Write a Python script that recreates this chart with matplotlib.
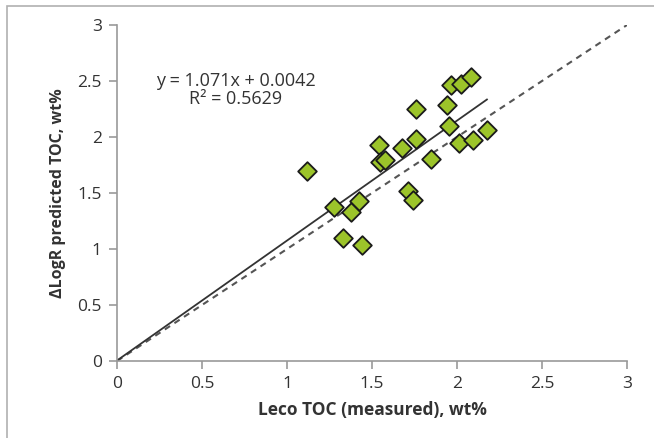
import matplotlib
matplotlib.use("Agg")
import matplotlib.pyplot as plt
import numpy as np
from matplotlib.patches import Rectangle

plt.rcParams['font.family'] = ['Open Sans', 'DejaVu Sans']

leco_toc = [1.119, 1.279, 1.328, 1.377, 1.421, 1.443, 1.542, 1.549, 1.574, 1.679,
            1.709, 1.741, 1.758, 1.758, 1.849, 1.942, 1.950, 1.967, 2.011, 2.024,
            2.083, 2.097, 2.176]
logr_toc = [1.693, 1.375, 1.099, 1.331, 1.426, 1.040, 1.925, 1.773, 1.797, 1.901,
            1.521, 1.434, 2.248, 1.981, 1.806, 2.284, 2.100, 2.462, 1.945, 2.471,
            2.539, 1.972, 2.064]
slope = 1.071
intercept = 0.0042
r2 = 0.5629
ticks = [0, 0.5, 1, 1.5, 2, 2.5, 3]
tick_labels = ['0', '0.5', '1', '1.5', '2', '2.5', '3']

W, H = 654, 438
fig = plt.figure(figsize=(W / 100, H / 100), dpi=100)
ax = fig.add_axes([117 / W, 1 - 361 / H, (627 - 117) / W, (361 - 25) / H])

# outer frame (left and top visible)
fig.patches.append(Rectangle((7 / W, -0.1), 1.2, 1 - 6 / H + 0.1, transform=fig.transFigure,
                             fill=False, edgecolor='#b0b0b0', linewidth=1.2))

# 1:1 line
ax.plot([0, 3], [0, 3], linestyle=(0, (3, 2.5)), color='#555555', linewidth=1.5, zorder=2)
# trend line
xt = np.array([0, max(leco_toc)])
ax.plot(xt, slope * xt + intercept, color='#333333', linewidth=1.3, zorder=2)

ax.scatter(leco_toc, logr_toc, marker='D', s=90, facecolor='#9cc42a', edgecolor='#1a1a1a',
           linewidth=1.3, zorder=3)

ax.set_xlim(0, 3)
ax.set_ylim(0, 3)
ax.set_xticks(ticks)
ax.set_xticklabels(tick_labels)
ax.set_yticks(ticks)
ax.set_yticklabels(tick_labels)
for s in ['top', 'right']:
    ax.spines[s].set_visible(False)
for s in ['left', 'bottom']:
    ax.spines[s].set_color('#999999')
    ax.spines[s].set_linewidth(1.2)
ax.tick_params(direction='out', length=6, width=1.2, color='#999999', labelcolor='#333333',
               labelsize=12.5, pad=5)

ax.set_xlabel('Leco TOC (measured), wt%', fontsize=12.5, fontweight='bold', color='#333333', labelpad=6)
ax.set_ylabel('ΔLogR predicted TOC, wt%', fontsize=11.5, fontweight='bold', color='#333333', labelpad=8)

ax.text(0.70, 2.42, f'y = {slope}x + {intercept}\nR² = {r2}', fontsize=13, color='#333333',
        ha='center', va='center', linespacing=1.05)

fig.savefig('out.png', dpi=100, facecolor='white')
